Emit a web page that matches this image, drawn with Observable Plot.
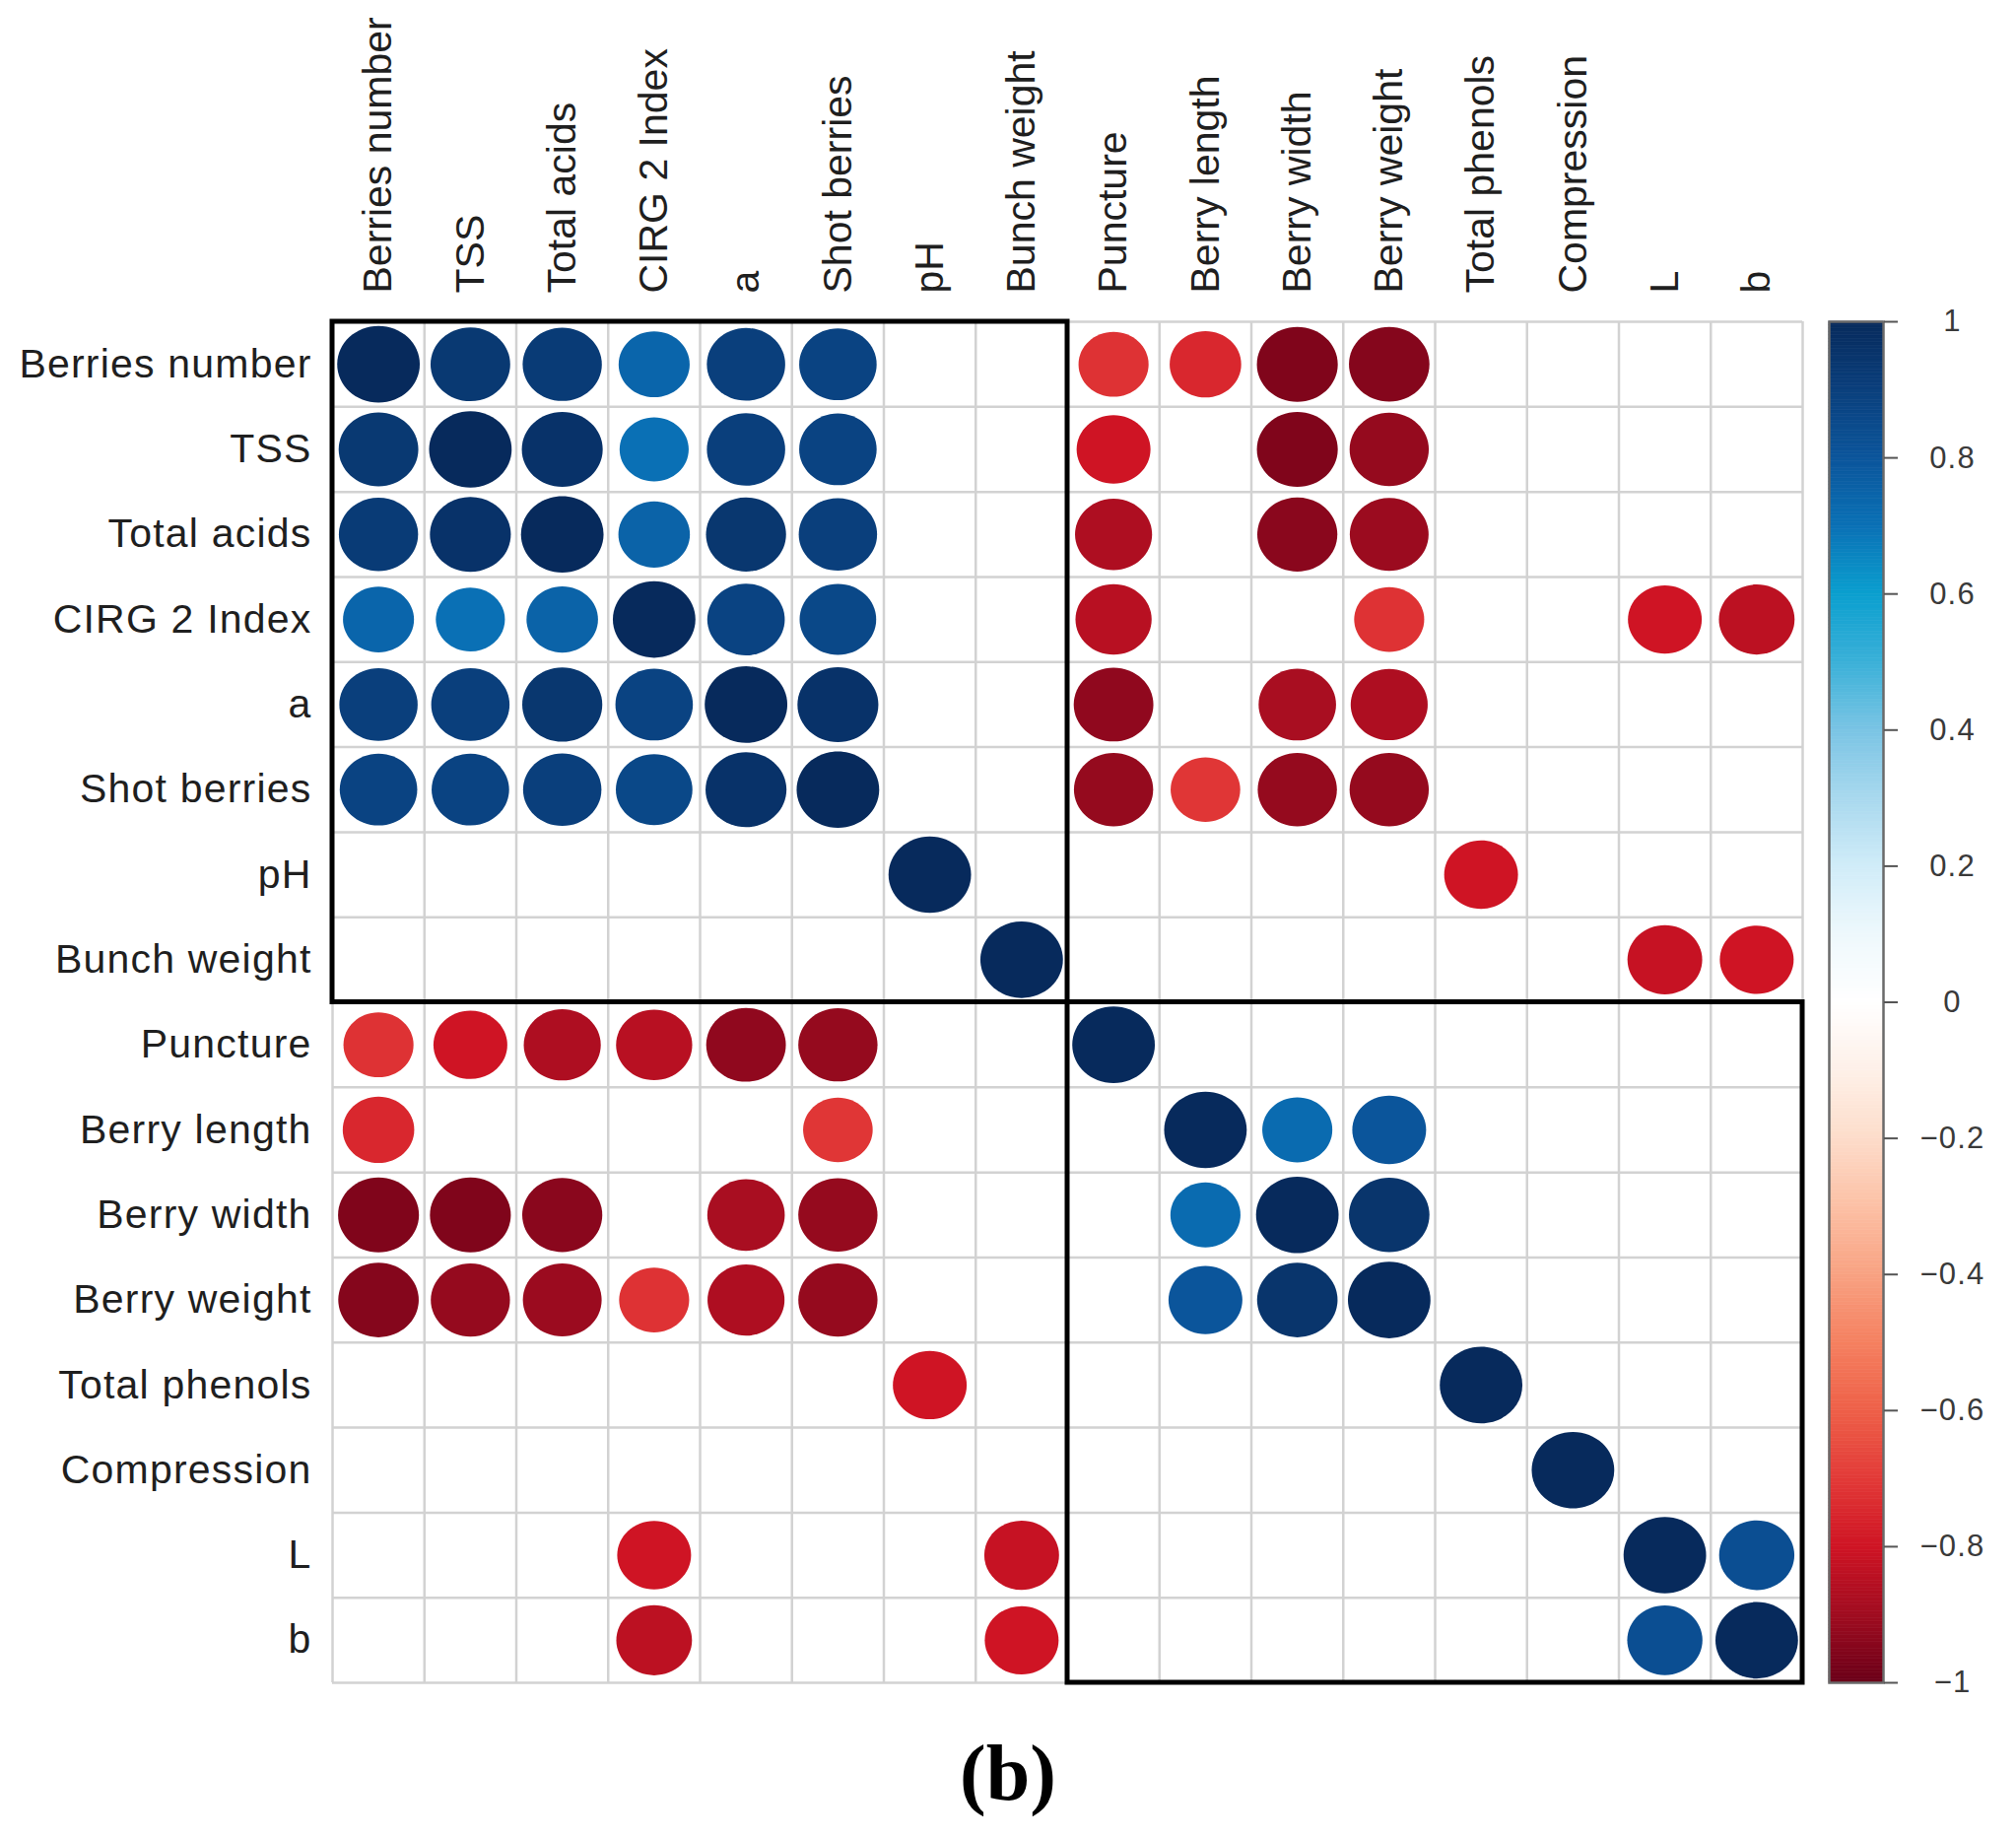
<!DOCTYPE html>
<html>
<head>
<meta charset="utf-8">
<script src="https://cdn.jsdelivr.net/npm/d3@7"></script>
<script src="https://cdn.jsdelivr.net/npm/@observablehq/plot@0.6"></script>
<style>
  html, body { margin: 0; padding: 0; background: #fff; }
  #wrap { position: relative; width: 2046px; height: 1866px; background: #fff; }
  #wrap svg { position: absolute; top: 0; }
  #caption { position: absolute; left: 0; top: 1759px; width: 2046px; text-align: center;
    font: bold 80px "Liberation Serif", "Times New Roman", serif; line-height: 80px; color: #000; }
  g[aria-label="y-axis tick label"] text { letter-spacing: 1.2px; }
</style>
</head>
<body>
<div id="wrap"><div id="caption">(b)</div></div>
<script>
// ---- data ----
const labels = ["Berries number", "TSS", "Total acids", "CIRG 2 Index", "a", "Shot berries", "pH", "Bunch weight",
  "Puncture", "Berry length", "Berry width", "Berry weight", "Total phenols", "Compression", "L", "b"];

const _ = null; // non-significant (blank)
const corr = [
  [1, .93, .92, .74, .90, .88, _, _, -.72, -.75, -.96, -.95, _, _, _, _],
  [.93, 1, .96, .70, .90, .88, _, _, -.80, _, -.96, -.92, _, _, _, _],
  [.92, .96, 1, .75, .94, .90, _, _, -.87, _, -.94, -.91, _, _, _, _],
  [.74, .70, .75, 1, .88, .86, _, _, -.85, _, _, -.72, _, _, -.80, -.84],
  [.90, .90, .94, .88, 1, .96, _, _, -.93, _, -.88, -.87, _, _, _, _],
  [.88, .88, .90, .86, .96, 1, _, _, -.92, -.71, -.92, -.92, _, _, _, _],
  [_, _, _, _, _, _, 1, _, _, _, _, _, -.80, _, _, _],
  [_, _, _, _, _, _, _, 1, _, _, _, _, _, _, -.82, -.80],
  [-.72, -.80, -.87, -.85, -.93, -.92, _, _, 1, _, _, _, _, _, _, _],
  [-.75, _, _, _, _, -.71, _, _, _, 1, .72, .80, _, _, _, _],
  [-.96, -.96, -.94, _, -.88, -.92, _, _, _, .72, 1, .95, _, _, _, _],
  [-.95, -.92, -.91, -.72, -.87, -.92, _, _, _, .80, .95, 1, _, _, _, _],
  [_, _, _, _, _, _, -.80, _, _, _, _, _, 1, _, _, _],
  [_, _, _, _, _, _, _, _, _, _, _, _, _, 1, _, _],
  [_, _, _, -.80, _, _, _, -.82, _, _, _, _, _, _, 1, .83],
  [_, _, _, -.84, _, _, _, -.80, _, _, _, _, _, _, .83, 1]
];

// cluster blocks (index ranges) outlined in black
const blocks = [[0, 8], [8, 16]];

// colour bar tick values
const barTicks = [1, 0.8, 0.6, 0.4, 0.2, 0, -0.2, -0.4, -0.6, -0.8, -1];

// ---- styles ----
const stopVals = [-1, -0.9, -0.8, -0.7, -0.6, -0.5, -0.4, -0.3, -0.2, -0.1, 0, 0.1, 0.2, 0.3, 0.4, 0.5, 0.6, 0.7, 0.8, 0.9, 1];
const stopCols = ["#6a0018", "#a00c20", "#cf1424", "#e23a38", "#ee6048", "#f58060", "#f8a282", "#fcc0a5", "#fddcca", "#fef0e8",
  "#ffffff", "#eef8fc", "#d0ecf8", "#a8d8ee", "#7ac4e4", "#3ab0d8", "#0a9fcf", "#0a70b5", "#0b559b", "#0a3f7c", "#072a5c"];
const colorScale = {type: "linear", domain: stopVals, range: stopCols, clamp: true};
const font = "'Liberation Sans', Arial, Helvetica, sans-serif";

const n = labels.length;
const cells = [];
corr.forEach((row, i) => row.forEach((v, j) => { if (v !== null) cells.push({row: i, col: j, v}); }));

// ellipse symbol (cells are slightly wider than tall)
const ellipse = {
  draw(ctx, size) {
    const r = Math.sqrt(size / Math.PI), rx = r * 1.08, ry = r, k = 0.5522848;
    ctx.moveTo(rx, 0);
    ctx.bezierCurveTo(rx, ry * k, rx * k, ry, 0, ry);
    ctx.bezierCurveTo(-rx * k, ry, -rx, ry * k, -rx, 0);
    ctx.bezierCurveTo(-rx, -ry * k, -rx * k, -ry, 0, -ry);
    ctx.bezierCurveTo(rx * k, -ry, rx, -ry * k, rx, 0);
    ctx.closePath();
  }
};

const centers = d3.range(n).map(i => i + 0.5);
const lab = d => labels[Math.floor(d)];

const main = Plot.plot({
  width: 2046, height: 1730,
  marginTop: 326, marginBottom: 23, marginLeft: 337, marginRight: 217,
  x: {domain: [0, n], axis: null},
  y: {domain: [0, n], reverse: true, axis: null},
  r: {type: "sqrt", domain: [0, 1], range: [0, 38.8]},
  color: colorScale,
  style: {fontFamily: font, fontSize: "41px", color: "#1f1f1f", background: "white", overflow: "visible"},
  marks: [
    Plot.gridX(d3.range(n + 1), {stroke: "#d2d2d2", strokeOpacity: 1, strokeWidth: 2.5}),
    Plot.gridY(d3.range(n + 1), {stroke: "#d2d2d2", strokeOpacity: 1, strokeWidth: 2.5}),
    Plot.dot(cells, {x: d => d.col + 0.5, y: d => d.row + 0.5, r: d => Math.abs(d.v), fill: d => d.v, symbol: ellipse}),
    Plot.rect(blocks, {x1: d => d[0], x2: d => d[1], y1: d => d[0], y2: d => d[1], fill: "none", stroke: "black", strokeWidth: 5}),
    Plot.axisX(centers, {anchor: "top", tickFormat: lab, tickRotate: -90, tickSize: 0, tickPadding: 29, label: null}),
    Plot.axisY(centers, {anchor: "left", tickFormat: lab, tickSize: 0, tickPadding: 21, label: null})
  ]
});
main.style.left = "0px";

const step = 0.005;
const grad = d3.range(-1, 1, step);
const bar = Plot.plot({
  width: 200, height: 1730,
  marginTop: 326, marginBottom: 23, marginLeft: 10, marginRight: 135,
  x: {domain: [0, 1], axis: null},
  y: {domain: [-1, 1], axis: null},
  color: colorScale,
  style: {fontFamily: font, fontSize: "31px", color: "#3a3a3a", background: "transparent", overflow: "visible"},
  marks: [
    Plot.rect(grad, {x1: 0, x2: 1, y1: d => d, y2: d => d + step, fill: d => d + step / 2, stroke: d => d + step / 2, strokeWidth: 0.6}),
    Plot.frame({stroke: "#6a6a6a", strokeWidth: 2.5}),
    Plot.axisY(barTicks, {anchor: "right", tickSize: 14, tickPadding: 56, textAnchor: "middle", tickFormat: d3.format("~g"), stroke: "#555", strokeWidth: 2, label: null})
  ]
});
bar.style.left = "1846px";

const wrap = document.getElementById("wrap");
wrap.insertBefore(bar, wrap.firstChild);
wrap.insertBefore(main, wrap.firstChild);
</script>
</body>
</html>
